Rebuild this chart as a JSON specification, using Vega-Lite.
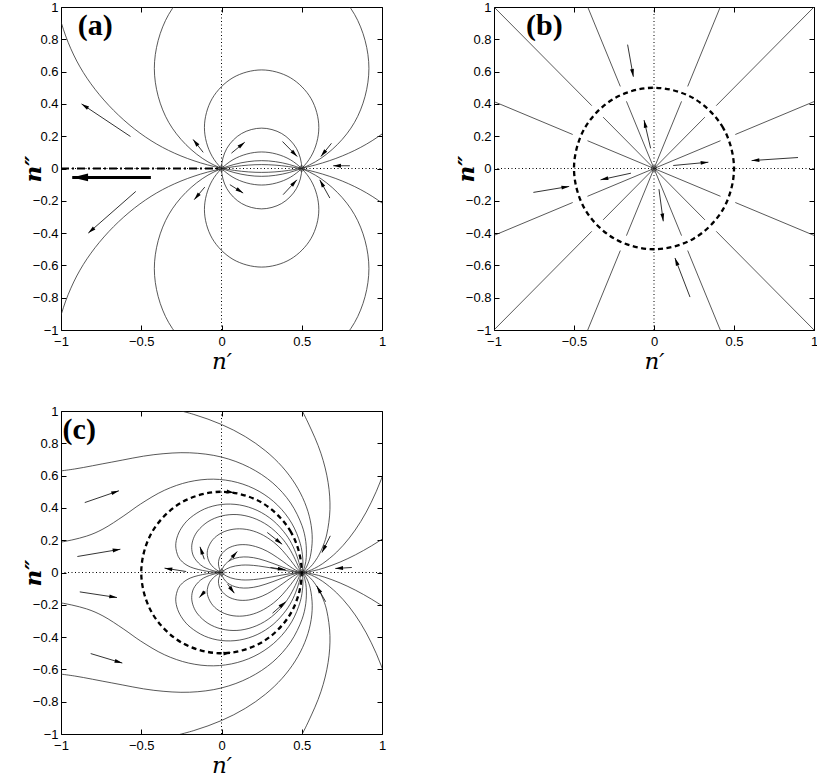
{
"$schema":"https://vega.github.io/schema/vega-lite/v6.json",
"background":"white",
"padding":{"left":21,"top":0,"right":0,"bottom":0},
"config":{
 "view":{"stroke":"black","strokeWidth":1},
 "axis":{"grid":false,"domain":false,"ticks":true,"tickColor":"black","tickSize":-5,"tickWidth":1,"labelFont":"Liberation Sans","labelFontSize":13,"labelColor":"black","labelPadding":8,"labelFlush":false,"labelOverlap":false,"titleFont":"DejaVu Serif","titleFontSize":23,"titleFontStyle":"italic","titleFontWeight":"normal","titleColor":"black"},
 "axisX":{"titlePadding":2,"labelPadding":10},
 "axisY":{"titlePadding":-13,"titleFontWeight":"bold"}
},
"datasets":{
 "box":[{"x":-1,"y":-1},{"x":1,"y":1}],
 "ax0":[{"x":-1,"y":0,"x2":1,"y2":0},{"x":0,"y":-1,"x2":0,"y2":1}],
 "ddA":[{"x":-1,"y":0,"x2":0,"y2":0}],
 "fixA":[{"x":0,"y":0},{"x":0.5,"y":0}],
 "fixB":[{"x":0,"y":0}],
 "labA":[{"t":"(a)","x":-0.895,"y":0.882}],
 "labB":[{"t":"(b)","x":-0.80,"y":0.882}],
 "labC":[{"t":"(c)","x":-0.99,"y":0.885}],
 "thickA":[{"x":-0.93,"y":-0.055,"xt":-0.44,"yt":-0.055,"h":-90}],
 "arrA":[
  {"x":-0.872,"y":0.40,"xt":-0.567,"yt":0.198,"h":-56.5},
  {"x":-0.177,"y":0.18,"xt":-0.114,"yt":0.10,"h":-38.2},
  {"x":0.145,"y":0.163,"xt":0.062,"yt":0.095,"h":50.7},
  {"x":0.472,"y":0.074,"xt":0.38,"yt":0.167,"h":135.3},
  {"x":0.619,"y":0.074,"xt":0.685,"yt":0.156,"h":-141.2},
  {"x":0.696,"y":0.017,"xt":0.80,"yt":0.017,"h":-90},
  {"x":-0.83,"y":-0.40,"xt":-0.534,"yt":-0.142,"h":-131.1},
  {"x":-0.17,"y":-0.193,"xt":-0.104,"yt":-0.115,"h":-139.8},
  {"x":0.135,"y":-0.152,"xt":0.052,"yt":-0.10,"h":122.1},
  {"x":0.47,"y":-0.07,"xt":0.384,"yt":-0.162,"h":43.1},
  {"x":0.612,"y":-0.07,"xt":0.675,"yt":-0.183,"h":-29.1}],
 "arrB":[
  {"x":-0.129,"y":0.568,"xt":-0.165,"yt":0.767,"h":169.7},
  {"x":-0.0625,"y":0.30,"xt":-0.021,"yt":0.125,"h":-13.3},
  {"x":0.34,"y":0.039,"xt":0.12,"yt":0.0185,"h":84.7},
  {"x":0.61,"y":0.049,"xt":0.90,"yt":0.068,"h":-93.7},
  {"x":-0.334,"y":-0.07,"xt":-0.144,"yt":-0.029,"h":-102.2},
  {"x":-0.53,"y":-0.111,"xt":-0.754,"yt":-0.148,"h":80.6},
  {"x":0.058,"y":-0.327,"xt":0.031,"yt":-0.128,"h":172.3},
  {"x":0.131,"y":-0.554,"xt":0.225,"yt":-0.796,"h":-21.2}],
 "arrC":[
  {"x":-0.639,"y":0.506,"xt":-0.852,"yt":0.433,"h":71.1},
  {"x":-0.630,"y":0.144,"xt":-0.898,"yt":0.099,"h":80.5},
  {"x":-0.134,"y":0.159,"xt":-0.107,"yt":0.082,"h":-19.3},
  {"x":-0.355,"y":0.027,"xt":-0.220,"yt":0.006,"h":-81.2},
  {"x":0.098,"y":0.130,"xt":0.047,"yt":0.072,"h":41.3},
  {"x":0.378,"y":0.175,"xt":0.285,"yt":0.248,"h":128.1},
  {"x":0.626,"y":0.124,"xt":0.678,"yt":0.227,"h":-153.2},
  {"x":0.399,"y":0.017,"xt":0.305,"yt":0.031,"h":98.5},
  {"x":0.709,"y":0.025,"xt":0.812,"yt":0.031,"h":-93.3},
  {"x":-0.651,"y":-0.155,"xt":-0.883,"yt":-0.120,"h":98.6},
  {"x":-0.618,"y":-0.561,"xt":-0.815,"yt":-0.502,"h":106.7},
  {"x":-0.138,"y":-0.155,"xt":-0.101,"yt":-0.114,"h":-138.1},
  {"x":0.08,"y":-0.128,"xt":0.038,"yt":-0.072,"h":143.1},
  {"x":0.40,"y":-0.181,"xt":0.318,"yt":-0.252,"h":49.1},
  {"x":0.593,"y":-0.083,"xt":0.649,"yt":-0.181,"h":-29.7},
  {"x":0.08,"y":0.494,"xt":0.08,"yt":0.494,"h":99},
  {"x":0.06,"y":-0.496,"xt":0.06,"yt":-0.496,"h":83}],
 "dash":[
  {"k":0,"x":0.5,"y":0},{"k":1,"x":0.433,"y":0.25},{"k":2,"x":0.25,"y":0.433},{"k":3,"x":0,"y":0.5},{"k":4,"x":-0.25,"y":0.433},{"k":5,"x":-0.433,"y":0.25},{"k":6,"x":-0.5,"y":0},{"k":7,"x":-0.433,"y":-0.25},{"k":8,"x":-0.25,"y":-0.433},{"k":9,"x":0,"y":-0.5},{"k":10,"x":0.25,"y":-0.433},{"k":11,"x":0.433,"y":-0.25}],
 "segB":[
  {"x":0,"y":0,"x2":0.4158,"y2":0.1722},{"x":0.5081,"y":0.2105,"x2":1,"y2":0.4142},
  {"x":0,"y":0,"x2":0.3182,"y2":0.3182},{"x":0.3889,"y":0.3889,"x2":1,"y2":1},
  {"x":0,"y":0,"x2":0.1722,"y2":0.4158},{"x":0.2105,"y":0.5081,"x2":0.4142,"y2":1},
  {"x":0,"y":0,"x2":-0.1722,"y2":0.4158},{"x":-0.2105,"y":0.5081,"x2":-0.4142,"y2":1},
  {"x":0,"y":0,"x2":-0.3182,"y2":0.3182},{"x":-0.3889,"y":0.3889,"x2":-1,"y2":1},
  {"x":0,"y":0,"x2":-0.4158,"y2":0.1722},{"x":-0.5081,"y":0.2105,"x2":-1,"y2":0.4142},
  {"x":0,"y":0,"x2":0.4158,"y2":-0.1722},{"x":0.5081,"y":-0.2105,"x2":1,"y2":-0.4142},
  {"x":0,"y":0,"x2":0.3182,"y2":-0.3182},{"x":0.3889,"y":-0.3889,"x2":1,"y2":-1},
  {"x":0,"y":0,"x2":0.1722,"y2":-0.4158},{"x":0.2105,"y":-0.5081,"x2":0.4142,"y2":-1},
  {"x":0,"y":0,"x2":-0.1722,"y2":-0.4158},{"x":-0.2105,"y":-0.5081,"x2":-0.4142,"y2":-1},
  {"x":0,"y":0,"x2":-0.3182,"y2":-0.3182},{"x":-0.3889,"y":-0.3889,"x2":-1,"y2":-1},
  {"x":0,"y":0,"x2":-0.4158,"y2":-0.1722},{"x":-0.5081,"y":-0.2105,"x2":-1,"y2":-0.4142}],
 "circA":[
  {"c":1,"k":0,"x":0.5,"y":0},{"c":1,"k":1,"x":0.4665,"y":0.125},{"c":1,"k":2,"x":0.375,"y":0.2165},{"c":1,"k":3,"x":0.25,"y":0.25},{"c":1,"k":4,"x":0.125,"y":0.2165},{"c":1,"k":5,"x":0.0335,"y":0.125},{"c":1,"k":6,"x":0,"y":0},{"c":1,"k":7,"x":0.0335,"y":-0.125},{"c":1,"k":8,"x":0.125,"y":-0.2165},{"c":1,"k":9,"x":0.25,"y":-0.25},{"c":1,"k":10,"x":0.375,"y":-0.2165},{"c":1,"k":11,"x":0.4665,"y":-0.125},
  {"c":2,"k":0,"x":0.6064,"y":0.254},{"c":2,"k":1,"x":0.5586,"y":0.432},{"c":2,"k":2,"x":0.4282,"y":0.5626},{"c":2,"k":3,"x":0.25,"y":0.6104},{"c":2,"k":4,"x":0.0718,"y":0.5626},{"c":2,"k":5,"x":-0.0586,"y":0.432},{"c":2,"k":6,"x":-0.1064,"y":0.254},{"c":2,"k":7,"x":-0.0586,"y":0.0758},{"c":2,"k":8,"x":0.0718,"y":-0.0546},{"c":2,"k":9,"x":0.25,"y":-0.1024},{"c":2,"k":10,"x":0.4282,"y":-0.0546},{"c":2,"k":11,"x":0.5586,"y":0.0758},
  {"c":3,"k":0,"x":0.6064,"y":-0.254},{"c":3,"k":1,"x":0.5586,"y":-0.432},{"c":3,"k":2,"x":0.4282,"y":-0.5626},{"c":3,"k":3,"x":0.25,"y":-0.6104},{"c":3,"k":4,"x":0.0718,"y":-0.5626},{"c":3,"k":5,"x":-0.0586,"y":-0.432},{"c":3,"k":6,"x":-0.1064,"y":-0.254},{"c":3,"k":7,"x":-0.0586,"y":-0.0758},{"c":3,"k":8,"x":0.0718,"y":0.0546},{"c":3,"k":9,"x":0.25,"y":0.1024},{"c":3,"k":10,"x":0.4282,"y":0.0546},{"c":3,"k":11,"x":0.5586,"y":-0.0758},
  {"c":4,"k":0,"x":0.9185,"y":0.62},{"c":4,"k":1,"x":0.8289,"y":0.9543},{"c":4,"k":2,"x":0.5843,"y":1.1989},{"c":4,"k":3,"x":0.25,"y":1.2885},{"c":4,"k":4,"x":-0.0843,"y":1.1989},{"c":4,"k":5,"x":-0.3289,"y":0.9543},{"c":4,"k":6,"x":-0.4185,"y":0.62},{"c":4,"k":7,"x":-0.3289,"y":0.2857},{"c":4,"k":8,"x":-0.0843,"y":0.0411},{"c":4,"k":9,"x":0.25,"y":-0.0485},{"c":4,"k":10,"x":0.5843,"y":0.0411},{"c":4,"k":11,"x":0.8289,"y":0.2857},
  {"c":5,"k":0,"x":0.9185,"y":-0.62},{"c":5,"k":1,"x":0.8289,"y":-0.9543},{"c":5,"k":2,"x":0.5843,"y":-1.1989},{"c":5,"k":3,"x":0.25,"y":-1.2885},{"c":5,"k":4,"x":-0.0843,"y":-1.1989},{"c":5,"k":5,"x":-0.3289,"y":-0.9543},{"c":5,"k":6,"x":-0.4185,"y":-0.62},{"c":5,"k":7,"x":-0.3289,"y":-0.2857},{"c":5,"k":8,"x":-0.0843,"y":-0.0411},{"c":5,"k":9,"x":0.25,"y":0.0485},{"c":5,"k":10,"x":0.5843,"y":-0.0411},{"c":5,"k":11,"x":0.8289,"y":-0.2857},
  {"c":6,"k":0,"x":1.5571,"y":1.283},{"c":6,"k":1,"x":1.3819,"y":1.9366},{"c":6,"k":2,"x":0.9036,"y":2.4149},{"c":6,"k":3,"x":0.25,"y":2.5901},{"c":6,"k":4,"x":-0.4036,"y":2.4149},{"c":6,"k":5,"x":-0.8819,"y":1.9366},{"c":6,"k":6,"x":-1.0571,"y":1.283},{"c":6,"k":7,"x":-0.8819,"y":0.6294},{"c":6,"k":8,"x":-0.4036,"y":0.1511},{"c":6,"k":9,"x":0.25,"y":-0.0241},{"c":6,"k":10,"x":0.9036,"y":0.1511},{"c":6,"k":11,"x":1.3819,"y":0.6294},
  {"c":7,"k":0,"x":1.5571,"y":-1.283},{"c":7,"k":1,"x":1.3819,"y":-1.9366},{"c":7,"k":2,"x":0.9036,"y":-2.4149},{"c":7,"k":3,"x":0.25,"y":-2.5901},{"c":7,"k":4,"x":-0.4036,"y":-2.4149},{"c":7,"k":5,"x":-0.8819,"y":-1.9366},{"c":7,"k":6,"x":-1.0571,"y":-1.283},{"c":7,"k":7,"x":-0.8819,"y":-0.6294},{"c":7,"k":8,"x":-0.4036,"y":-0.1511},{"c":7,"k":9,"x":0.25,"y":0.0241},{"c":7,"k":10,"x":0.9036,"y":-0.1511},{"c":7,"k":11,"x":1.3819,"y":-0.6294}],
 "curC":[
  {"c":"o1","k":0,"x":0.5,"y":0},{"c":"o1","k":1,"x":0.5308,"y":0.0028},{"c":"o1","k":2,"x":0.5713,"y":0.01},{"c":"o1","k":3,"x":0.6391,"y":0.0279},{"c":"o1","k":4,"x":0.739,"y":0.0647},{"c":"o1","k":5,"x":0.8356,"y":0.11},{"c":"o1","k":6,"x":0.934,"y":0.1647},{"c":"o1","k":7,"x":1.0361,"y":0.2297},{"c":"o1","k":8,"x":1.1442,"y":0.3066},
  {"c":"o2","k":0,"x":0.5,"y":0},{"c":"o2","k":1,"x":0.5417,"y":0.0095},{"c":"o2","k":2,"x":0.5792,"y":0.0253},{"c":"o2","k":3,"x":0.6305,"y":0.0552},{"c":"o2","k":4,"x":0.718,"y":0.1266},{"c":"o2","k":5,"x":0.796,"y":0.2133},{"c":"o2","k":6,"x":0.8677,"y":0.3158},{"c":"o2","k":7,"x":0.9335,"y":0.4353},{"c":"o2","k":8,"x":0.994,"y":0.5739},{"c":"o2","k":9,"x":1.0485,"y":0.7342},
  {"c":"o3","k":0,"x":0.5,"y":0},{"c":"o3","k":1,"x":0.5228,"y":0.0091},{"c":"o3","k":2,"x":0.5424,"y":0.0237},{"c":"o3","k":3,"x":0.5677,"y":0.0497},{"c":"o3","k":4,"x":0.6064,"y":0.1069},{"c":"o3","k":5,"x":0.6354,"y":0.1703},{"c":"o3","k":6,"x":0.6564,"y":0.2389},{"c":"o3","k":7,"x":0.6758,"y":0.3902},{"c":"o3","k":8,"x":0.6642,"y":0.5573},{"c":"o3","k":9,"x":0.6194,"y":0.7382},{"c":"o3","k":10,"x":0.5376,"y":0.9312},{"c":"o3","k":11,"x":0.4206,"y":1.1555},
  {"c":"o4","k":0,"x":0.5,"y":0},{"c":"o4","k":1,"x":0.5126,"y":0.0089},{"c":"o4","k":2,"x":0.523,"y":0.0228},{"c":"o4","k":3,"x":0.5357,"y":0.0469},{"c":"o4","k":4,"x":0.553,"y":0.0975},{"c":"o4","k":5,"x":0.5654,"y":0.2058},{"c":"o4","k":6,"x":0.5536,"y":0.3196},{"c":"o4","k":7,"x":0.5181,"y":0.4348},{"c":"o4","k":8,"x":0.4595,"y":0.5476},{"c":"o4","k":9,"x":0.3781,"y":0.6549},{"c":"o4","k":10,"x":0.2742,"y":0.7534},{"c":"o4","k":11,"x":0.1484,"y":0.8413},{"c":"o4","k":12,"x":0,"y":0.9166},{"c":"o4","k":13,"x":-0.1726,"y":0.9788},{"c":"o4","k":14,"x":-0.3751,"y":1.0306},
  {"c":"o5","k":0,"x":0.5,"y":0},{"c":"o5","k":1,"x":0.5076,"y":0.0089},{"c":"o5","k":2,"x":0.5204,"y":0.0455},{"c":"o5","k":3,"x":0.528,"y":0.0931},{"c":"o5","k":4,"x":0.5252,"y":0.1912},{"c":"o5","k":5,"x":0.5017,"y":0.2897},{"c":"o5","k":6,"x":0.4306,"y":0.4306},{"c":"o5","k":7,"x":0.3199,"y":0.554},{"c":"o5","k":8,"x":0.1742,"y":0.6503},{"c":"o5","k":9,"x":0,"y":0.7148},{"c":"o5","k":10,"x":-0.1986,"y":0.7412},{"c":"o5","k":11,"x":-0.4212,"y":0.7295},{"c":"o5","k":12,"x":-0.6836,"y":0.6836},{"c":"o5","k":13,"x":-0.9152,"y":0.6409},{"c":"o5","k":14,"x":-1.0741,"y":0.6202},
  {"c":"o6","k":0,"x":0.5,"y":0},{"c":"o6","k":1,"x":0.5044,"y":0.0176},{"c":"o6","k":2,"x":0.5069,"y":0.0443},{"c":"o6","k":3,"x":0.5062,"y":0.0893},{"c":"o6","k":4,"x":0.491,"y":0.1787},{"c":"o6","k":5,"x":0.437,"y":0.306},{"c":"o6","k":6,"x":0.3496,"y":0.4166},{"c":"o6","k":7,"x":0.2344,"y":0.5026},{"c":"o6","k":8,"x":0.0983,"y":0.5576},{"c":"o6","k":9,"x":-0.0506,"y":0.5779},{"c":"o6","k":10,"x":-0.2042,"y":0.561},{"c":"o6","k":11,"x":-0.3563,"y":0.5088},{"c":"o6","k":12,"x":-0.5048,"y":0.4236},{"c":"o6","k":13,"x":-0.6083,"y":0.3512},{"c":"o6","k":14,"x":-0.7387,"y":0.2689},{"c":"o6","k":15,"x":-0.8407,"y":0.2253},{"c":"o6","k":16,"x":-1.0343,"y":0.1824},{"c":"o6","k":17,"x":-1.2447,"y":0.1639},
  {"c":"i1","k":0,"x":0,"y":0},{"c":"i1","k":1,"x":-0.0915,"y":0.008},{"c":"i1","k":2,"x":-0.1944,"y":0.0343},{"c":"i1","k":3,"x":-0.2431,"y":0.0651},{"c":"i1","k":4,"x":-0.269,"y":0.0979},{"c":"i1","k":5,"x":-0.2852,"y":0.1647},{"c":"i1","k":6,"x":-0.273,"y":0.2291},{"c":"i1","k":7,"x":-0.2414,"y":0.2877},{"c":"i1","k":8,"x":-0.1951,"y":0.3379},{"c":"i1","k":9,"x":-0.1055,"y":0.3936},{"c":"i1","k":10,"x":0,"y":0.4212},{"c":"i1","k":11,"x":0.1121,"y":0.4184},{"c":"i1","k":12,"x":0.222,"y":0.3846},{"c":"i1","k":13,"x":0.3215,"y":0.3215},{"c":"i1","k":14,"x":0.4033,"y":0.2328},{"c":"i1","k":15,"x":0.4452,"y":0.1621},{"c":"i1","k":16,"x":0.4761,"y":0.0839},{"c":"i1","k":17,"x":0.4876,"y":0.0427},{"c":"i1","k":18,"x":0.494,"y":0.0173},{"c":"i1","k":19,"x":0.5,"y":0},
  {"c":"i2","k":0,"x":0,"y":0},{"c":"i2","k":1,"x":-0.0267,"y":0.0047},{"c":"i2","k":2,"x":-0.0909,"y":0.0244},{"c":"i2","k":3,"x":-0.1316,"y":0.0479},{"c":"i2","k":4,"x":-0.1745,"y":0.1008},{"c":"i2","k":5,"x":-0.1857,"y":0.1559},{"c":"i2","k":6,"x":-0.1753,"y":0.209},{"c":"i2","k":7,"x":-0.1484,"y":0.257},{"c":"i2","k":8,"x":-0.0843,"y":0.3147},{"c":"i2","k":9,"x":0,"y":0.3498},{"c":"i2","k":10,"x":0.0961,"y":0.3587},{"c":"i2","k":11,"x":0.1954,"y":0.3384},{"c":"i2","k":12,"x":0.2903,"y":0.2903},{"c":"i2","k":13,"x":0.3737,"y":0.2158},{"c":"i2","k":14,"x":0.4203,"y":0.153},{"c":"i2","k":15,"x":0.4592,"y":0.081},{"c":"i2","k":16,"x":0.4767,"y":0.0417},{"c":"i2","k":17,"x":0.488,"y":0.017},{"c":"i2","k":18,"x":0.5,"y":0},
  {"c":"i3","k":0,"x":0,"y":0},{"c":"i3","k":1,"x":-0.0156,"y":0.0073},{"c":"i3","k":2,"x":-0.0421,"y":0.0243},{"c":"i3","k":3,"x":-0.0754,"y":0.0633},{"c":"i3","k":4,"x":-0.0884,"y":0.1053},{"c":"i3","k":5,"x":-0.0848,"y":0.1469},{"c":"i3","k":6,"x":-0.0544,"y":0.203},{"c":"i3","k":7,"x":0,"y":0.2452},{"c":"i3","k":8,"x":0.0718,"y":0.2678},{"c":"i3","k":9,"x":0.1542,"y":0.267},{"c":"i3","k":10,"x":0.2406,"y":0.2406},{"c":"i3","k":11,"x":0.3252,"y":0.1878},{"c":"i3","k":12,"x":0.3786,"y":0.1378},{"c":"i3","k":13,"x":0.4302,"y":0.0759},{"c":"i3","k":14,"x":0.4576,"y":0.04},{"c":"i3","k":15,"x":0.4772,"y":0.0167},{"c":"i3","k":16,"x":0.5,"y":0},
  {"c":"i4","k":0,"x":0,"y":0},{"c":"i4","k":1,"x":-0.0039,"y":0.0055},{"c":"i4","k":2,"x":-0.012,"y":0.0207},{"c":"i4","k":3,"x":-0.0191,"y":0.0525},{"c":"i4","k":4,"x":-0.0148,"y":0.0841},{"c":"i4","k":5,"x":0,"y":0.1135},{"c":"i4","k":6,"x":0.04,"y":0.1492},{"c":"i4","k":7,"x":0.098,"y":0.1697},{"c":"i4","k":8,"x":0.1702,"y":0.1702},{"c":"i4","k":9,"x":0.2533,"y":0.1463},{"c":"i4","k":10,"x":0.3145,"y":0.1145},{"c":"i4","k":11,"x":0.3837,"y":0.0677},{"c":"i4","k":12,"x":0.4259,"y":0.0373},{"c":"i4","k":13,"x":0.4591,"y":0.016},{"c":"i4","k":14,"x":0.5,"y":0},
  {"c":"i5","k":0,"x":0,"y":0},{"c":"i5","k":1,"x":0.002,"y":0.0115},{"c":"i5","k":2,"x":0.0143,"y":0.0392},{"c":"i5","k":3,"x":0.0367,"y":0.0636},{"c":"i5","k":4,"x":0.0693,"y":0.0826},{"c":"i5","k":5,"x":0.1122,"y":0.0942},{"c":"i5","k":6,"x":0.166,"y":0.0958},{"c":"i5","k":7,"x":0.2328,"y":0.0847},{"c":"i5","k":8,"x":0.3205,"y":0.0565},{"c":"i5","k":9,"x":0.3811,"y":0.0333},{"c":"i5","k":10,"x":0.4324,"y":0.0151},{"c":"i5","k":11,"x":0.4722,"y":0.0041},{"c":"i5","k":12,"x":0.5,"y":0},
  {"c":"i6","k":0,"x":0,"y":0},{"c":"i6","k":1,"x":0.012,"y":0.0101},{"c":"i6","k":2,"x":0.0324,"y":0.0227},{"c":"i6","k":3,"x":0.0575,"y":0.0332},{"c":"i6","k":4,"x":0.088,"y":0.041},{"c":"i6","k":5,"x":0.1252,"y":0.0456},{"c":"i6","k":6,"x":0.1711,"y":0.0459},{"c":"i6","k":7,"x":0.2301,"y":0.0406},{"c":"i6","k":8,"x":0.3129,"y":0.0274},{"c":"i6","k":9,"x":0.3895,"y":0.0136},{"c":"i6","k":10,"x":0.4531,"y":0.004},{"c":"i6","k":11,"x":0.5,"y":0},
  {"c":"o1m","k":0,"x":0.5,"y":0},{"c":"o1m","k":1,"x":0.5308,"y":-0.0028},{"c":"o1m","k":2,"x":0.5713,"y":-0.01},{"c":"o1m","k":3,"x":0.6391,"y":-0.0279},{"c":"o1m","k":4,"x":0.739,"y":-0.0647},{"c":"o1m","k":5,"x":0.8356,"y":-0.11},{"c":"o1m","k":6,"x":0.934,"y":-0.1647},{"c":"o1m","k":7,"x":1.0361,"y":-0.2297},{"c":"o1m","k":8,"x":1.1442,"y":-0.3066},
  {"c":"o2m","k":0,"x":0.5,"y":0},{"c":"o2m","k":1,"x":0.5417,"y":-0.0095},{"c":"o2m","k":2,"x":0.5792,"y":-0.0253},{"c":"o2m","k":3,"x":0.6305,"y":-0.0552},{"c":"o2m","k":4,"x":0.718,"y":-0.1266},{"c":"o2m","k":5,"x":0.796,"y":-0.2133},{"c":"o2m","k":6,"x":0.8677,"y":-0.3158},{"c":"o2m","k":7,"x":0.9335,"y":-0.4353},{"c":"o2m","k":8,"x":0.994,"y":-0.5739},{"c":"o2m","k":9,"x":1.0485,"y":-0.7342},
  {"c":"o3m","k":0,"x":0.5,"y":0},{"c":"o3m","k":1,"x":0.5228,"y":-0.0091},{"c":"o3m","k":2,"x":0.5424,"y":-0.0237},{"c":"o3m","k":3,"x":0.5677,"y":-0.0497},{"c":"o3m","k":4,"x":0.6064,"y":-0.1069},{"c":"o3m","k":5,"x":0.6354,"y":-0.1703},{"c":"o3m","k":6,"x":0.6564,"y":-0.2389},{"c":"o3m","k":7,"x":0.6758,"y":-0.3902},{"c":"o3m","k":8,"x":0.6642,"y":-0.5573},{"c":"o3m","k":9,"x":0.6194,"y":-0.7382},{"c":"o3m","k":10,"x":0.5376,"y":-0.9312},{"c":"o3m","k":11,"x":0.4206,"y":-1.1555},
  {"c":"o4m","k":0,"x":0.5,"y":0},{"c":"o4m","k":1,"x":0.5126,"y":-0.0089},{"c":"o4m","k":2,"x":0.523,"y":-0.0228},{"c":"o4m","k":3,"x":0.5357,"y":-0.0469},{"c":"o4m","k":4,"x":0.553,"y":-0.0975},{"c":"o4m","k":5,"x":0.5654,"y":-0.2058},{"c":"o4m","k":6,"x":0.5536,"y":-0.3196},{"c":"o4m","k":7,"x":0.5181,"y":-0.4348},{"c":"o4m","k":8,"x":0.4595,"y":-0.5476},{"c":"o4m","k":9,"x":0.3781,"y":-0.6549},{"c":"o4m","k":10,"x":0.2742,"y":-0.7534},{"c":"o4m","k":11,"x":0.1484,"y":-0.8413},{"c":"o4m","k":12,"x":0,"y":-0.9166},{"c":"o4m","k":13,"x":-0.1726,"y":-0.9788},{"c":"o4m","k":14,"x":-0.3751,"y":-1.0306},
  {"c":"o5m","k":0,"x":0.5,"y":0},{"c":"o5m","k":1,"x":0.5076,"y":-0.0089},{"c":"o5m","k":2,"x":0.5204,"y":-0.0455},{"c":"o5m","k":3,"x":0.528,"y":-0.0931},{"c":"o5m","k":4,"x":0.5252,"y":-0.1912},{"c":"o5m","k":5,"x":0.5017,"y":-0.2897},{"c":"o5m","k":6,"x":0.4306,"y":-0.4306},{"c":"o5m","k":7,"x":0.3199,"y":-0.554},{"c":"o5m","k":8,"x":0.1742,"y":-0.6503},{"c":"o5m","k":9,"x":0,"y":-0.7148},{"c":"o5m","k":10,"x":-0.1986,"y":-0.7412},{"c":"o5m","k":11,"x":-0.4212,"y":-0.7295},{"c":"o5m","k":12,"x":-0.6836,"y":-0.6836},{"c":"o5m","k":13,"x":-0.9152,"y":-0.6409},{"c":"o5m","k":14,"x":-1.0741,"y":-0.6202},
  {"c":"o6m","k":0,"x":0.5,"y":0},{"c":"o6m","k":1,"x":0.5044,"y":-0.0176},{"c":"o6m","k":2,"x":0.5069,"y":-0.0443},{"c":"o6m","k":3,"x":0.5062,"y":-0.0893},{"c":"o6m","k":4,"x":0.491,"y":-0.1787},{"c":"o6m","k":5,"x":0.437,"y":-0.306},{"c":"o6m","k":6,"x":0.3496,"y":-0.4166},{"c":"o6m","k":7,"x":0.2344,"y":-0.5026},{"c":"o6m","k":8,"x":0.0983,"y":-0.5576},{"c":"o6m","k":9,"x":-0.0506,"y":-0.5779},{"c":"o6m","k":10,"x":-0.2042,"y":-0.561},{"c":"o6m","k":11,"x":-0.3563,"y":-0.5088},{"c":"o6m","k":12,"x":-0.5048,"y":-0.4236},{"c":"o6m","k":13,"x":-0.6083,"y":-0.3512},{"c":"o6m","k":14,"x":-0.7387,"y":-0.2689},{"c":"o6m","k":15,"x":-0.8407,"y":-0.2253},{"c":"o6m","k":16,"x":-1.0343,"y":-0.1824},{"c":"o6m","k":17,"x":-1.2447,"y":-0.1639},
  {"c":"i1m","k":0,"x":0,"y":0},{"c":"i1m","k":1,"x":-0.0915,"y":-0.008},{"c":"i1m","k":2,"x":-0.1944,"y":-0.0343},{"c":"i1m","k":3,"x":-0.2431,"y":-0.0651},{"c":"i1m","k":4,"x":-0.269,"y":-0.0979},{"c":"i1m","k":5,"x":-0.2852,"y":-0.1647},{"c":"i1m","k":6,"x":-0.273,"y":-0.2291},{"c":"i1m","k":7,"x":-0.2414,"y":-0.2877},{"c":"i1m","k":8,"x":-0.1951,"y":-0.3379},{"c":"i1m","k":9,"x":-0.1055,"y":-0.3936},{"c":"i1m","k":10,"x":0,"y":-0.4212},{"c":"i1m","k":11,"x":0.1121,"y":-0.4184},{"c":"i1m","k":12,"x":0.222,"y":-0.3846},{"c":"i1m","k":13,"x":0.3215,"y":-0.3215},{"c":"i1m","k":14,"x":0.4033,"y":-0.2328},{"c":"i1m","k":15,"x":0.4452,"y":-0.1621},{"c":"i1m","k":16,"x":0.4761,"y":-0.0839},{"c":"i1m","k":17,"x":0.4876,"y":-0.0427},{"c":"i1m","k":18,"x":0.494,"y":-0.0173},{"c":"i1m","k":19,"x":0.5,"y":0},
  {"c":"i2m","k":0,"x":0,"y":0},{"c":"i2m","k":1,"x":-0.0267,"y":-0.0047},{"c":"i2m","k":2,"x":-0.0909,"y":-0.0244},{"c":"i2m","k":3,"x":-0.1316,"y":-0.0479},{"c":"i2m","k":4,"x":-0.1745,"y":-0.1008},{"c":"i2m","k":5,"x":-0.1857,"y":-0.1559},{"c":"i2m","k":6,"x":-0.1753,"y":-0.209},{"c":"i2m","k":7,"x":-0.1484,"y":-0.257},{"c":"i2m","k":8,"x":-0.0843,"y":-0.3147},{"c":"i2m","k":9,"x":0,"y":-0.3498},{"c":"i2m","k":10,"x":0.0961,"y":-0.3587},{"c":"i2m","k":11,"x":0.1954,"y":-0.3384},{"c":"i2m","k":12,"x":0.2903,"y":-0.2903},{"c":"i2m","k":13,"x":0.3737,"y":-0.2158},{"c":"i2m","k":14,"x":0.4203,"y":-0.153},{"c":"i2m","k":15,"x":0.4592,"y":-0.081},{"c":"i2m","k":16,"x":0.4767,"y":-0.0417},{"c":"i2m","k":17,"x":0.488,"y":-0.017},{"c":"i2m","k":18,"x":0.5,"y":0},
  {"c":"i3m","k":0,"x":0,"y":0},{"c":"i3m","k":1,"x":-0.0156,"y":-0.0073},{"c":"i3m","k":2,"x":-0.0421,"y":-0.0243},{"c":"i3m","k":3,"x":-0.0754,"y":-0.0633},{"c":"i3m","k":4,"x":-0.0884,"y":-0.1053},{"c":"i3m","k":5,"x":-0.0848,"y":-0.1469},{"c":"i3m","k":6,"x":-0.0544,"y":-0.203},{"c":"i3m","k":7,"x":0,"y":-0.2452},{"c":"i3m","k":8,"x":0.0718,"y":-0.2678},{"c":"i3m","k":9,"x":0.1542,"y":-0.267},{"c":"i3m","k":10,"x":0.2406,"y":-0.2406},{"c":"i3m","k":11,"x":0.3252,"y":-0.1878},{"c":"i3m","k":12,"x":0.3786,"y":-0.1378},{"c":"i3m","k":13,"x":0.4302,"y":-0.0759},{"c":"i3m","k":14,"x":0.4576,"y":-0.04},{"c":"i3m","k":15,"x":0.4772,"y":-0.0167},{"c":"i3m","k":16,"x":0.5,"y":0},
  {"c":"i4m","k":0,"x":0,"y":0},{"c":"i4m","k":1,"x":-0.0039,"y":-0.0055},{"c":"i4m","k":2,"x":-0.012,"y":-0.0207},{"c":"i4m","k":3,"x":-0.0191,"y":-0.0525},{"c":"i4m","k":4,"x":-0.0148,"y":-0.0841},{"c":"i4m","k":5,"x":0,"y":-0.1135},{"c":"i4m","k":6,"x":0.04,"y":-0.1492},{"c":"i4m","k":7,"x":0.098,"y":-0.1697},{"c":"i4m","k":8,"x":0.1702,"y":-0.1702},{"c":"i4m","k":9,"x":0.2533,"y":-0.1463},{"c":"i4m","k":10,"x":0.3145,"y":-0.1145},{"c":"i4m","k":11,"x":0.3837,"y":-0.0677},{"c":"i4m","k":12,"x":0.4259,"y":-0.0373},{"c":"i4m","k":13,"x":0.4591,"y":-0.016},{"c":"i4m","k":14,"x":0.5,"y":0},
  {"c":"i5m","k":0,"x":0,"y":0},{"c":"i5m","k":1,"x":0.002,"y":-0.0115},{"c":"i5m","k":2,"x":0.0143,"y":-0.0392},{"c":"i5m","k":3,"x":0.0367,"y":-0.0636},{"c":"i5m","k":4,"x":0.0693,"y":-0.0826},{"c":"i5m","k":5,"x":0.1122,"y":-0.0942},{"c":"i5m","k":6,"x":0.166,"y":-0.0958},{"c":"i5m","k":7,"x":0.2328,"y":-0.0847},{"c":"i5m","k":8,"x":0.3205,"y":-0.0565},{"c":"i5m","k":9,"x":0.3811,"y":-0.0333},{"c":"i5m","k":10,"x":0.4324,"y":-0.0151},{"c":"i5m","k":11,"x":0.4722,"y":-0.0041},{"c":"i5m","k":12,"x":0.5,"y":0},
  {"c":"i6m","k":0,"x":0,"y":0},{"c":"i6m","k":1,"x":0.012,"y":-0.0101},{"c":"i6m","k":2,"x":0.0324,"y":-0.0227},{"c":"i6m","k":3,"x":0.0575,"y":-0.0332},{"c":"i6m","k":4,"x":0.088,"y":-0.041},{"c":"i6m","k":5,"x":0.1252,"y":-0.0456},{"c":"i6m","k":6,"x":0.1711,"y":-0.0459},{"c":"i6m","k":7,"x":0.2301,"y":-0.0406},{"c":"i6m","k":8,"x":0.3129,"y":-0.0274},{"c":"i6m","k":9,"x":0.3895,"y":-0.0136},{"c":"i6m","k":10,"x":0.4531,"y":-0.004},{"c":"i6m","k":11,"x":0.5,"y":0}]
},
"vconcat":[
 {"hconcat":[
  {"width":321,"height":323,
   "encoding":{"x":{"field":"x","type":"quantitative","scale":{"domain":[-1,1],"nice":false,"zero":false},"axis":null},"y":{"field":"y","type":"quantitative","scale":{"domain":[-1,1],"nice":false,"zero":false},"axis":null}},
   "layer":[
    {"data":{"name":"box"},"mark":{"type":"point","opacity":0},"encoding":{"x":{"field":"x","type":"quantitative","scale":{"domain":[-1,1],"nice":false,"zero":false},"axis":{"orient":"bottom","values":[-1,-0.5,0,0.5,1],"format":"~g","title":"n′"}},"y":{"field":"y","type":"quantitative","scale":{"domain":[-1,1],"nice":false,"zero":false},"axis":{"orient":"left","values":[-1,-0.8,-0.6,-0.4,-0.2,0,0.2,0.4,0.6,0.8,1],"format":"~g","title":"n″"}}}},
    {"data":{"name":"box"},"mark":{"type":"point","opacity":0},"encoding":{"x":{"field":"x","type":"quantitative","scale":{"domain":[-1,1],"nice":false,"zero":false},"axis":{"orient":"top","values":[-1,-0.5,0,0.5,1],"labels":false,"title":null}},"y":{"field":"y","type":"quantitative","scale":{"domain":[-1,1],"nice":false,"zero":false},"axis":{"orient":"right","values":[-1,-0.8,-0.6,-0.4,-0.2,0,0.2,0.4,0.6,0.8,1],"labels":false,"title":null}}}},
    {"data":{"name":"ax0"},"mark":{"type":"rule","strokeDash":[1,2.5],"strokeWidth":1,"color":"black"},"encoding":{"x2":{"field":"x2"},"y2":{"field":"y2"}}},
    {"data":{"name":"circA"},"mark":{"type":"line","interpolate":"cardinal-closed","clip":true,"strokeWidth":0.75,"color":"#222"},"encoding":{"detail":{"field":"c","type":"nominal"},"order":{"field":"k","type":"quantitative"}}},
    {"data":{"name":"ddA"},"mark":{"type":"rule","strokeWidth":2.2,"strokeDash":[8,3,2,3],"color":"black"},"encoding":{"x2":{"field":"x2"},"y2":{"field":"y2"}}},
    {"data":{"name":"arrA"},"mark":{"type":"rule","strokeWidth":0.8,"color":"black"},"encoding":{"x2":{"field":"xt"},"y2":{"field":"yt"}}},
    {"data":{"name":"arrA"},"mark":{"type":"point","shape":"M0,0L-0.5,2L0.5,2Z","filled":true,"size":60,"color":"black","strokeWidth":0,"opacity":1},"encoding":{"angle":{"field":"h","type":"quantitative","scale":null}}},
    {"data":{"name":"thickA"},"mark":{"type":"rule","strokeWidth":3,"color":"black"},"encoding":{"x2":{"field":"xt"},"y2":{"field":"yt"}}},
    {"data":{"name":"thickA"},"mark":{"type":"point","shape":"M0,0L-0.5,2L0.5,2Z","filled":true,"size":250,"color":"black","strokeWidth":0,"opacity":1},"encoding":{"angle":{"field":"h","type":"quantitative","scale":null}}},
    {"data":{"name":"fixA"},"mark":{"type":"point","shape":"circle","size":28,"filled":false,"color":"#333","strokeWidth":0.8,"opacity":1}},
    {"data":{"name":"labA"},"mark":{"type":"text","font":"Liberation Serif","fontWeight":"bold","fontSize":30,"align":"left","baseline":"middle","color":"black"},"encoding":{"text":{"field":"t"}}}
   ],
   "resolve":{"axis":{"x":"independent","y":"independent"}}
  },
  {"width":320,"height":323,
   "encoding":{"x":{"field":"x","type":"quantitative","scale":{"domain":[-1,1],"nice":false,"zero":false},"axis":null},"y":{"field":"y","type":"quantitative","scale":{"domain":[-1,1],"nice":false,"zero":false},"axis":null}},
   "layer":[
    {"data":{"name":"box"},"mark":{"type":"point","opacity":0},"encoding":{"x":{"field":"x","type":"quantitative","scale":{"domain":[-1,1],"nice":false,"zero":false},"axis":{"orient":"bottom","values":[-1,-0.5,0,0.5,1],"format":"~g","title":"n′"}},"y":{"field":"y","type":"quantitative","scale":{"domain":[-1,1],"nice":false,"zero":false},"axis":{"orient":"left","values":[-1,-0.8,-0.6,-0.4,-0.2,0,0.2,0.4,0.6,0.8,1],"format":"~g","title":"n″"}}}},
    {"data":{"name":"box"},"mark":{"type":"point","opacity":0},"encoding":{"x":{"field":"x","type":"quantitative","scale":{"domain":[-1,1],"nice":false,"zero":false},"axis":{"orient":"top","values":[-1,-0.5,0,0.5,1],"labels":false,"title":null}},"y":{"field":"y","type":"quantitative","scale":{"domain":[-1,1],"nice":false,"zero":false},"axis":{"orient":"right","values":[-1,-0.8,-0.6,-0.4,-0.2,0,0.2,0.4,0.6,0.8,1],"labels":false,"title":null}}}},
    {"data":{"name":"ax0"},"mark":{"type":"rule","strokeDash":[1,2.5],"strokeWidth":1,"color":"black"},"encoding":{"x2":{"field":"x2"},"y2":{"field":"y2"}}},
    {"data":{"name":"segB"},"mark":{"type":"rule","strokeWidth":0.75,"color":"#222"},"encoding":{"x2":{"field":"x2"},"y2":{"field":"y2"}}},
    {"data":{"name":"dash"},"mark":{"type":"line","interpolate":"cardinal-closed","strokeWidth":2.3,"strokeDash":[5,3.5],"color":"black"},"encoding":{"order":{"field":"k","type":"quantitative"}}},
    {"data":{"name":"arrB"},"mark":{"type":"rule","strokeWidth":0.8,"color":"black"},"encoding":{"x2":{"field":"xt"},"y2":{"field":"yt"}}},
    {"data":{"name":"arrB"},"mark":{"type":"point","shape":"M0,0L-0.5,2L0.5,2Z","filled":true,"size":60,"color":"black","strokeWidth":0,"opacity":1},"encoding":{"angle":{"field":"h","type":"quantitative","scale":null}}},
    {"data":{"name":"fixB"},"mark":{"type":"point","shape":"circle","size":28,"filled":false,"color":"#333","strokeWidth":0.8,"opacity":1}},
    {"data":{"name":"labB"},"mark":{"type":"text","font":"Liberation Serif","fontWeight":"bold","fontSize":30,"align":"left","baseline":"middle","color":"black"},"encoding":{"text":{"field":"t"}}}
   ],
   "resolve":{"axis":{"x":"independent","y":"independent"}}
  }
 ],"spacing":67},
 {"width":321,"height":323,
  "encoding":{"x":{"field":"x","type":"quantitative","scale":{"domain":[-1,1],"nice":false,"zero":false},"axis":null},"y":{"field":"y","type":"quantitative","scale":{"domain":[-1,1],"nice":false,"zero":false},"axis":null}},
  "layer":[
   {"data":{"name":"box"},"mark":{"type":"point","opacity":0},"encoding":{"x":{"field":"x","type":"quantitative","scale":{"domain":[-1,1],"nice":false,"zero":false},"axis":{"orient":"bottom","values":[-1,-0.5,0,0.5,1],"format":"~g","title":"n′"}},"y":{"field":"y","type":"quantitative","scale":{"domain":[-1,1],"nice":false,"zero":false},"axis":{"orient":"left","values":[-1,-0.8,-0.6,-0.4,-0.2,0,0.2,0.4,0.6,0.8,1],"format":"~g","title":"n″"}}}},
   {"data":{"name":"box"},"mark":{"type":"point","opacity":0},"encoding":{"x":{"field":"x","type":"quantitative","scale":{"domain":[-1,1],"nice":false,"zero":false},"axis":{"orient":"top","values":[-1,-0.5,0,0.5,1],"labels":false,"title":null}},"y":{"field":"y","type":"quantitative","scale":{"domain":[-1,1],"nice":false,"zero":false},"axis":{"orient":"right","values":[-1,-0.8,-0.6,-0.4,-0.2,0,0.2,0.4,0.6,0.8,1],"labels":false,"title":null}}}},
   {"data":{"name":"ax0"},"mark":{"type":"rule","strokeDash":[1,2.5],"strokeWidth":1,"color":"black"},"encoding":{"x2":{"field":"x2"},"y2":{"field":"y2"}}},
   {"data":{"name":"curC"},"mark":{"type":"line","interpolate":"catmull-rom","clip":true,"strokeWidth":0.75,"color":"#222"},"encoding":{"detail":{"field":"c","type":"nominal"},"order":{"field":"k","type":"quantitative"}}},
   {"data":{"name":"dash"},"mark":{"type":"line","interpolate":"cardinal-closed","strokeWidth":2.3,"strokeDash":[5,3.5],"color":"black"},"encoding":{"order":{"field":"k","type":"quantitative"}}},
   {"data":{"name":"arrC"},"mark":{"type":"rule","strokeWidth":0.8,"color":"black"},"encoding":{"x2":{"field":"xt"},"y2":{"field":"yt"}}},
   {"data":{"name":"arrC"},"mark":{"type":"point","shape":"M0,0L-0.5,2L0.5,2Z","filled":true,"size":60,"color":"black","strokeWidth":0,"opacity":1},"encoding":{"angle":{"field":"h","type":"quantitative","scale":null}}},
   {"data":{"name":"fixA"},"mark":{"type":"point","shape":"circle","size":28,"filled":false,"color":"#333","strokeWidth":0.8,"opacity":1}},
   {"data":{"name":"labC"},"mark":{"type":"text","font":"Liberation Serif","fontWeight":"bold","fontSize":30,"align":"left","baseline":"middle","color":"black"},"encoding":{"text":{"field":"t"}}}
  ],
  "resolve":{"axis":{"x":"independent","y":"independent"}}
 }
],
"spacing":30
}
